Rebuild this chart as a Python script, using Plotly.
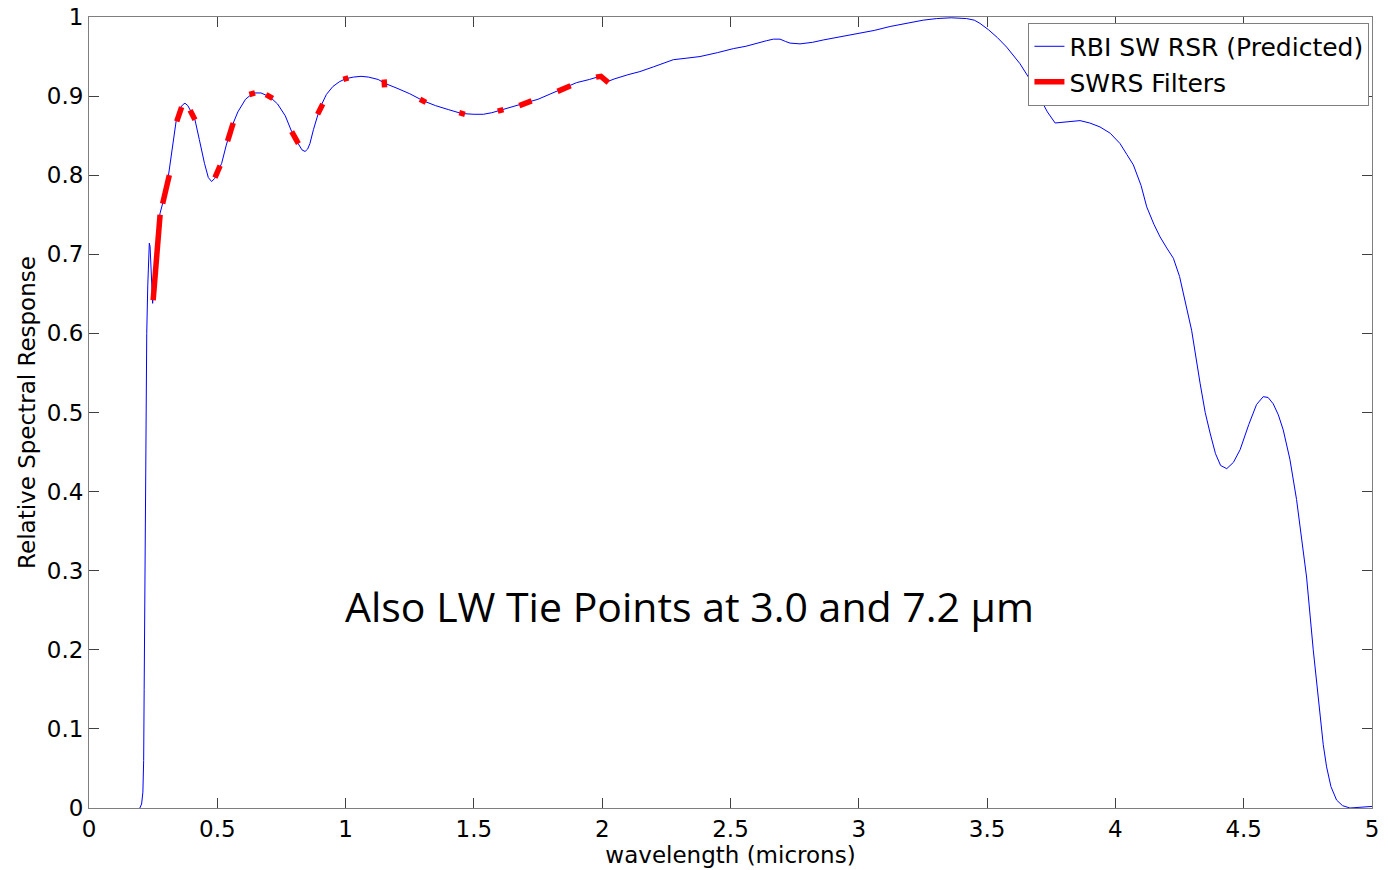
import plotly.graph_objects as go

# Blue curve: RBI SW RSR (Predicted)
wavelength = [0.198, 0.205, 0.210, 0.213, 0.215, 0.218, 0.222, 0.225, 0.229, 0.233, 0.235, 0.238,
              0.241, 0.244, 0.248, 0.252, 0.260, 0.270, 0.277, 0.290, 0.300, 0.309, 0.325, 0.342,
              0.355, 0.365, 0.374, 0.385, 0.400, 0.413, 0.430, 0.450, 0.465, 0.478, 0.490, 0.505,
              0.517, 0.535, 0.556, 0.580, 0.610, 0.640, 0.670, 0.705, 0.735, 0.765, 0.790, 0.815,
              0.830, 0.842, 0.852, 0.861, 0.875, 0.900, 0.925, 0.950, 0.975, 1.000, 1.030, 1.060,
              1.090, 1.127, 1.154, 1.200, 1.250, 1.303, 1.350, 1.400, 1.452, 1.500, 1.537, 1.570,
              1.602, 1.650, 1.706, 1.750, 1.800, 1.849, 1.900, 1.950, 1.991, 2.017, 2.050, 2.100,
              2.147, 2.200, 2.277, 2.330, 2.381, 2.450, 2.511, 2.560, 2.602, 2.640, 2.667, 2.693,
              2.715, 2.732, 2.771, 2.820, 2.862, 2.930, 3.005, 3.060, 3.122, 3.190, 3.251, 3.303,
              3.360, 3.420, 3.450, 3.472, 3.505, 3.540, 3.576, 3.628, 3.665, 3.700, 3.735, 3.765,
              3.800, 3.862, 3.900, 3.940, 3.980, 4.018, 4.045, 4.070, 4.100, 4.122, 4.150, 4.174,
              4.200, 4.226, 4.250, 4.271, 4.297, 4.330, 4.350, 4.369, 4.390, 4.410, 4.434, 4.460,
              4.486, 4.520, 4.550, 4.576, 4.595, 4.615, 4.635, 4.654, 4.680, 4.706, 4.725, 4.745,
              4.771, 4.797, 4.810, 4.823, 4.840, 4.862, 4.885, 4.914, 4.950, 4.980, 5.000]
response = [0.0, 0.005, 0.02, 0.06, 0.15, 0.30, 0.45, 0.60, 0.66, 0.70, 0.714, 0.71,
            0.68, 0.65, 0.638, 0.66, 0.70, 0.735, 0.752, 0.768, 0.780, 0.798, 0.835, 0.874,
            0.885, 0.889, 0.891, 0.888, 0.879, 0.870, 0.845, 0.815, 0.797, 0.792, 0.796, 0.806,
            0.815, 0.838, 0.861, 0.880, 0.896, 0.904, 0.904, 0.899, 0.890, 0.875, 0.855, 0.840,
            0.832, 0.830, 0.833, 0.840, 0.858, 0.885, 0.902, 0.912, 0.918, 0.922, 0.924, 0.925,
            0.924, 0.921, 0.916, 0.910, 0.903, 0.894, 0.888, 0.883, 0.878, 0.877, 0.877, 0.879,
            0.882, 0.886, 0.891, 0.896, 0.903, 0.910, 0.917, 0.921, 0.925, 0.918, 0.922, 0.927,
            0.931, 0.937, 0.946, 0.948, 0.950, 0.955, 0.960, 0.963, 0.967, 0.970, 0.972, 0.972,
            0.969, 0.967, 0.966, 0.968, 0.971, 0.975, 0.979, 0.983, 0.988, 0.992, 0.996, 0.998,
            0.999, 0.998, 0.996, 0.992, 0.984, 0.974, 0.962, 0.941, 0.922, 0.901, 0.880, 0.866,
            0.867, 0.869, 0.866, 0.861, 0.853, 0.840, 0.826, 0.813, 0.787, 0.760, 0.738, 0.722,
            0.708, 0.695, 0.672, 0.642, 0.604, 0.537, 0.500, 0.474, 0.448, 0.433, 0.429, 0.437,
            0.453, 0.485, 0.510, 0.520, 0.519, 0.511, 0.497, 0.478, 0.441, 0.390, 0.345, 0.292,
            0.200, 0.115, 0.080, 0.052, 0.027, 0.010, 0.003, 0.0, 0.001, 0.002, 0.002]

# Red segments: SWRS Filters (None separates filter bands)
filter_wl = [0.250, 0.262, 0.277, None,
             0.287, 0.300, 0.313, None,
             0.342, 0.352, 0.361, None,
             0.394, 0.413, None,
             0.491, 0.511, None,
             0.540, 0.562, None,
             0.625, 0.647, None,
             0.690, 0.716, None,
             0.790, 0.816, None,
             0.891, 0.911, None,
             0.991, 1.011, None,
             1.150, 1.152, None,
             1.290, 1.313, None,
             1.443, 1.465, None,
             1.593, 1.615, None,
             1.677, 1.725, None,
             1.826, 1.877, None,
             1.976, 1.995, 2.024]
filter_resp = [0.642, 0.700, 0.750, None,
               0.764, 0.780, 0.800, None,
               0.868, 0.880, 0.886, None,
               0.882, 0.870, None,
               0.797, 0.812, None,
               0.843, 0.866, None,
               0.902, 0.904, None,
               0.902, 0.897, None,
               0.855, 0.840, None,
               0.877, 0.890, None,
               0.921, 0.923, None,
               0.921, 0.911, None,
               0.896, 0.892, None,
               0.879, 0.877, None,
               0.881, 0.883, None,
               0.888, 0.894, None,
               0.906, 0.913, None,
               0.924, 0.925, 0.917]

x_ticks = [0, 0.5, 1, 1.5, 2, 2.5, 3, 3.5, 4, 4.5, 5]
y_ticks = [0, 0.1, 0.2, 0.3, 0.4, 0.5, 0.6, 0.7, 0.8, 0.9, 1]

FONT = "DejaVu Sans, Liberation Sans, Arial, sans-serif"
FS = 23

fig = go.Figure()
fig.add_trace(go.Scatter(x=wavelength, y=response, mode="lines",
                         line=dict(color="#0000ff", width=1),
                         name="RBI SW RSR (Predicted)"))
fig.add_trace(go.Scatter(x=filter_wl, y=filter_resp, mode="lines",
                         line=dict(color="#ff0000", width=5.5),
                         connectgaps=False,
                         name="SWRS Filters"))

fig.add_annotation(x=2.342, y=0.255, xref="x", yref="y",
                   text="Also LW Tie Points at 3.0 and 7.2 µm",
                   showarrow=False,
                   font=dict(family="Open Sans, Lato, sans-serif", size=41, color="black"))

axis_common = dict(showgrid=False, zeroline=False, showline=True, linecolor="#7f7f7f",
                   linewidth=1, mirror="ticks", ticks="inside", ticklen=10,
                   tickcolor="#404040", tickwidth=1, automargin=False,
                   tickfont=dict(family=FONT, size=FS, color="black"))

fig.update_xaxes(range=[0, 5], tickvals=x_ticks, ticktext=[f"{v:g}" for v in x_ticks],
                 title=dict(text="wavelength (microns)", standoff=0,
                            font=dict(family=FONT, size=FS, color="black")),
                 **axis_common)
fig.update_yaxes(range=[0, 1], tickvals=y_ticks, ticktext=[f"{v:g}" for v in y_ticks],
                 title=dict(text="Relative Spectral Response", standoff=4,
                            font=dict(family=FONT, size=FS, color="black")),
                 **axis_common)

fig.update_layout(
    width=1388, height=870, autosize=False,
    margin=dict(l=89, r=16, t=17, b=62, autoexpand=False),
    plot_bgcolor="white", paper_bgcolor="white",
    font=dict(family=FONT, size=FS, color="black"),
    legend=dict(x=0.998, y=0.993, xanchor="right", yanchor="top",
                bgcolor="white", bordercolor="#7f7f7f", borderwidth=1,
                font=dict(family=FONT, size=25, color="black"),
                tracegroupgap=0, itemwidth=30),
)

fig.write_html("out.html")
